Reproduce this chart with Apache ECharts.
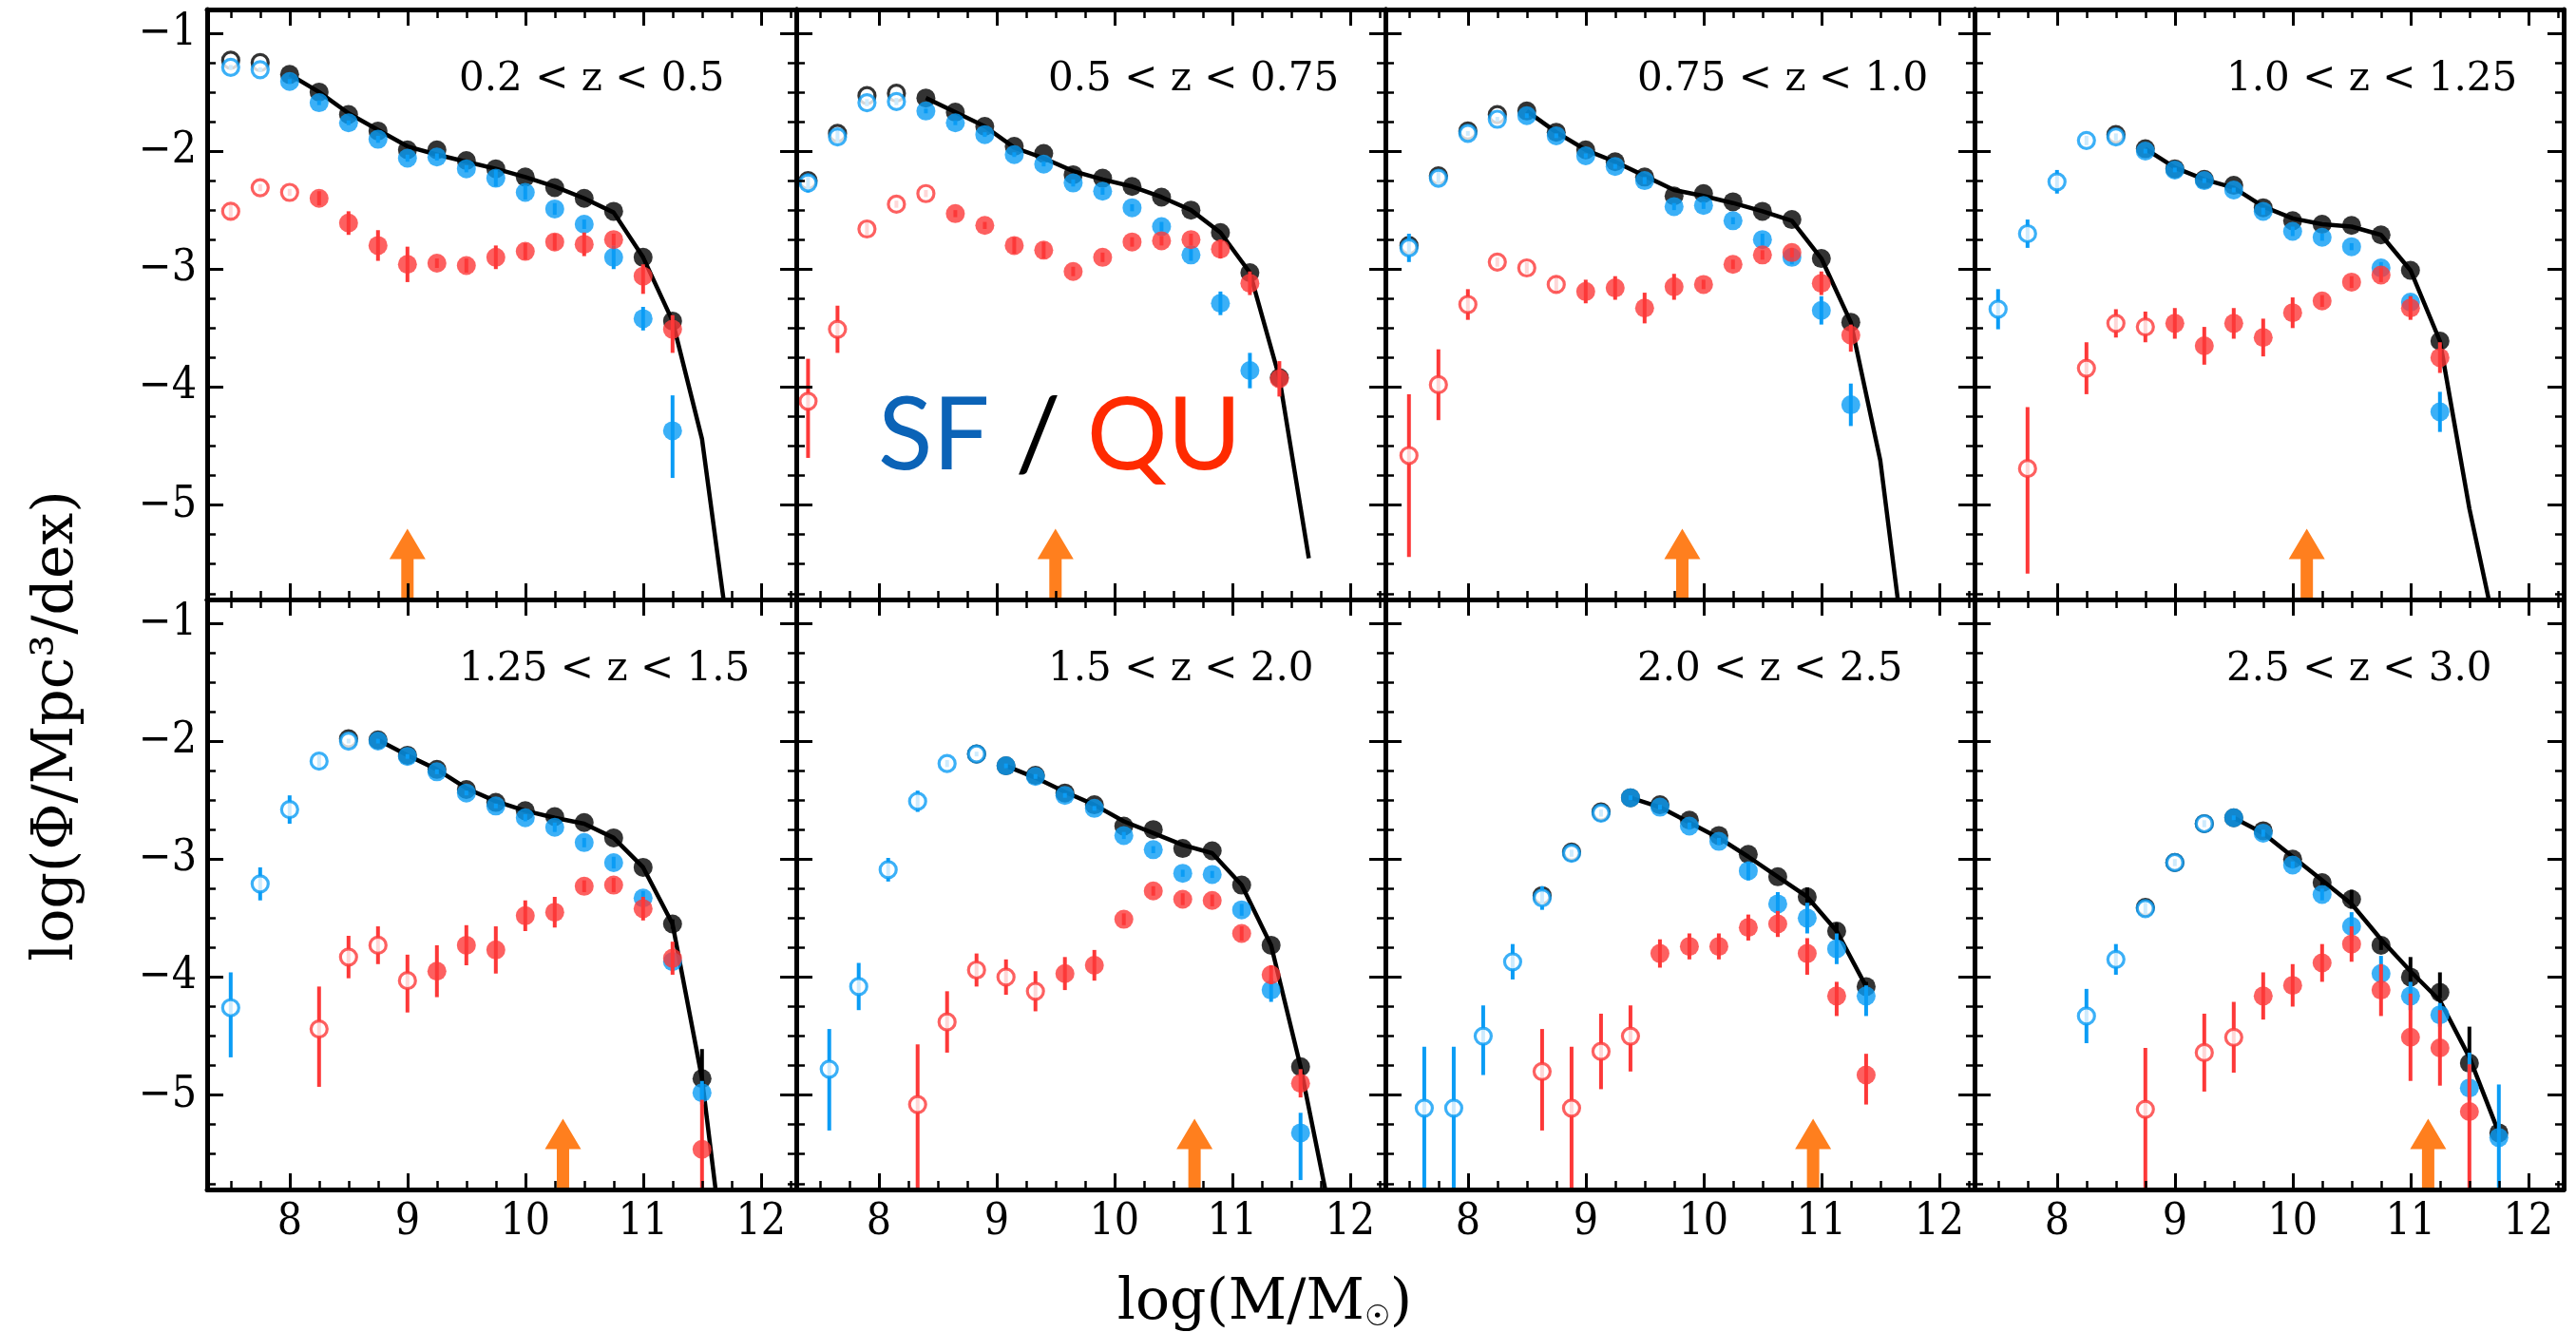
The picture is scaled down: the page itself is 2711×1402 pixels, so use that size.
<!DOCTYPE html>
<html>
<head>
<meta charset="utf-8">
<title>SF / QU stellar mass functions</title>
<script src="https://cdn.jsdelivr.net/npm/echarts@6/dist/echarts.min.js"></script>
<style>
  html, body { margin: 0; padding: 0; background: #fff; }
  #chart { width: 2711px; height: 1402px; }
</style>
</head>
<body>
<div id="chart"></div>
<script>
/*
  Stellar mass functions of star-forming (SF) and quiescent (QU) galaxies
  in eight redshift bins. Black = total, blue = SF, red = QU.
  Open symbols are below the mass completeness limit, the orange arrow marks it.
*/

// axis ranges and tick positions, shared by every panel
const X_MIN = 7.3
const X_MAX = 12.3
const Y_MIN = -5.8
const Y_MAX = -0.8
const xMajor = [8, 9, 10, 11, 12]
const xMinor = [7.5, 7.75, 8.25, 8.5, 8.75, 9.25, 9.5, 9.75, 10.25, 10.5, 10.75, 11.25, 11.5, 11.75, 12.25]
const yMajor = [-5, -4, -3, -2, -1]
const yMinor = [-5.75, -5.5, -5.25, -4.75, -4.5, -4.25, -3.75, -3.5, -3.25, -2.75, -2.5, -2.25, -1.75, -1.5, -1.25]

const zLabels = [
  '0.2 < z < 0.5', '0.5 < z < 0.75', '0.75 < z < 1.0', '1.0 < z < 1.25',
  '1.25 < z < 1.5', '1.5 < z < 2.0', '2.0 < z < 2.5', '2.5 < z < 3.0',
]

// completeness arrows (log M), tip height in log(Phi)
const arrowMass = [9.0, 9.5, 9.82, 10.12, 10.32, 10.68, 10.93, 11.15]
const ARROW_TIP = -5.2

// panel 1: 0.2 < z < 0.5
const mass1 = [7.5, 7.75, 8, 8.25, 8.5, 8.75, 9, 9.25, 9.5, 9.75, 10, 10.25, 10.5, 10.75, 11, 11.25, 11.5, 11.75]
const all1 = [-1.23, -1.25, -1.35, -1.50, -1.69, -1.83, -1.99, -1.99, -2.08, -2.15, -2.22, -2.31, -2.40, -2.51, -2.90, -3.44]
const allErr1 = []
const sf1 = [-1.29, -1.31, -1.41, -1.59, -1.76, -1.90, -2.06, -2.05, -2.15, -2.23, -2.35, -2.49, -2.62, -2.90, -3.42, -4.37]
const sfErr1 = [0.02, 0.02, 0.02, 0.02, 0.02, 0.03, 0.03, 0.03, 0.03, 0.07, 0.06, 0.05, 0.04, 0.1, 0.1, [0.3, 0.4]]
const qu1 = [-2.51, -2.31, -2.35, -2.40, -2.61, -2.80, -2.96, -2.95, -2.97, -2.90, -2.85, -2.77, -2.79, -2.75, -3.06, -3.51]
const quErr1 = [0.06, 0.03, 0.03, 0.06, 0.1, 0.13, 0.15, 0.04, 0.06, 0.1, 0.07, 0.07, 0.1, 0.05, [0.1, 0.15], [0.12, 0.2]]
const fit1 = [null, null, -1.35, -1.50, -1.68, -1.82, -1.96, -2.03, -2.09, -2.15, -2.22, -2.30, -2.40, -2.52, -2.90, -3.44, -4.44, -6.3]
const open1 = [2, 2, 3]

// panel 2: 0.5 < z < 0.75
const mass2 = [7.4, 7.65, 7.9, 8.15, 8.4, 8.65, 8.9, 9.15, 9.4, 9.65, 9.9, 10.15, 10.4, 10.65, 10.9, 11.15, 11.4, 11.65]
const all2 = [-2.25, -1.85, -1.53, -1.51, -1.55, -1.67, -1.79, -1.96, -2.02, -2.20, -2.23, -2.30, -2.39, -2.50, -2.69, -3.03, -3.92]
const allErr2 = []
const sf2 = [-2.27, -1.88, -1.59, -1.58, -1.66, -1.76, -1.86, -2.03, -2.11, -2.27, -2.34, -2.48, -2.64, -2.88, -3.29, -3.86]
const sfErr2 = [0.08, 0.06, 0.03, 0.03, 0.02, 0.02, 0.02, 0.02, 0.02, 0.03, 0.03, 0.03, 0.04, 0.05, 0.1, 0.15]
const qu2 = [-4.12, -3.51, -2.66, -2.45, -2.36, -2.53, -2.63, -2.80, -2.84, -3.02, -2.90, -2.77, -2.76, -2.75, -2.83, -3.12, -3.93]
const quErr2 = [[0.36, 0.48], 0.2, 0.06, 0.03, 0.03, 0.03, 0.03, 0.07, 0.07, 0.04, 0.04, 0.04, 0.04, 0.05, 0.08, 0.1, 0.15]
const fit2 = [null, null, null, null, -1.55, -1.67, -1.79, -1.97, -2.06, -2.17, -2.24, -2.30, -2.39, -2.50, -2.69, -3.03, -3.92, -5.45]
const open2 = [4, 4, 5]

// panel 3: 0.75 < z < 1.0
const mass3 = [7.5, 7.75, 8, 8.25, 8.5, 8.75, 9, 9.25, 9.5, 9.75, 10, 10.25, 10.5, 10.75, 11, 11.25, 11.5, 11.75]
const all3 = [-2.80, -2.21, -1.83, -1.69, -1.66, -1.84, -1.99, -2.09, -2.22, -2.38, -2.36, -2.43, -2.51, -2.58, -2.91, -3.45]
const allErr3 = []
const sf3 = [-2.82, -2.23, -1.85, -1.73, -1.70, -1.87, -2.04, -2.13, -2.25, -2.47, -2.46, -2.59, -2.75, -2.90, -3.35, -4.15]
const sfErr3 = [0.12, 0.06, 0.02, 0.02, 0.02, 0.02, 0.02, 0.02, 0.03, 0.03, 0.03, 0.03, 0.05, 0.06, 0.12, 0.18]
const qu3 = [-4.58, -3.98, -3.30, -2.94, -2.99, -3.13, -3.19, -3.16, -3.33, -3.15, -3.13, -2.96, -2.88, -2.86, -3.12, -3.56]
const quErr3 = [[0.52, 0.86], 0.3, 0.13, 0.04, 0.05, 0.07, 0.1, 0.1, 0.13, 0.11, 0.04, 0.04, 0.04, 0.04, 0.1, [0.09, 0.14]]
const fit3 = [null, null, null, null, -1.66, -1.84, -1.99, -2.09, -2.21, -2.33, -2.38, -2.44, -2.51, -2.59, -2.91, -3.45, -4.62, -6.6]
const open3 = [4, 4, 6]

// panel 4: 1.0 < z < 1.25
const mass4 = [7.5, 7.75, 8, 8.25, 8.5, 8.75, 9, 9.25, 9.5, 9.75, 10, 10.25, 10.5, 10.75, 11, 11.25, 11.5, 11.75]
const all4 = [null, null, null, null, -1.86, -1.98, -2.15, -2.24, -2.29, -2.48, -2.59, -2.62, -2.63, -2.71, -3.01, -3.61]
const allErr4 = []
const sf4 = [-3.34, -2.70, -2.26, -1.91, -1.88, -2.00, -2.16, -2.25, -2.33, -2.51, -2.68, -2.73, -2.81, -2.99, -3.28, -4.21]
const sfErr4 = [0.17, 0.12, 0.1, 0.04, 0.03, 0.02, 0.02, 0.02, 0.02, 0.03, 0.04, 0.03, 0.03, 0.05, 0.06, 0.17]
const qu4 = [null, -4.69, null, -3.84, -3.46, -3.49, -3.46, -3.65, -3.46, -3.58, -3.37, -3.27, -3.11, -3.05, -3.33, -3.75]
const quErr4 = [0, [0.52, 0.89], 0, 0.22, 0.12, 0.13, 0.13, 0.16, 0.13, 0.16, 0.13, 0.05, 0.05, 0.06, 0.1, 0.13]
const fit4 = [null, null, null, null, null, -1.98, -2.14, -2.24, -2.31, -2.47, -2.57, -2.62, -2.64, -2.71, -3.01, -3.61, -5.03, -6.2]
const open4 = [5, 5, 6]

// panel 5: 1.25 < z < 1.5
const mass5 = [7.5, 7.75, 8, 8.25, 8.5, 8.75, 9, 9.25, 9.5, 9.75, 10, 10.25, 10.5, 10.75, 11, 11.25, 11.5, 11.75]
const all5 = [null, null, null, null, -1.98, -1.99, -2.12, -2.24, -2.41, -2.52, -2.59, -2.64, -2.69, -2.82, -3.07, -3.55, -4.86]
const allErr5 = [0, 0, 0, 0, 0, 0, 0, 0, 0, 0, 0, 0, 0, 0, 0, 0.04, [0.25, 0.17]]
const sf5 = [-4.26, -3.21, -2.58, -2.17, -2.00, -2.00, -2.13, -2.26, -2.44, -2.55, -2.65, -2.73, -2.86, -3.03, -3.33, -3.87, -4.98]
const sfErr5 = [[0.30, 0.42], 0.14, 0.12, 0.05, 0.02, 0.02, 0.02, 0.02, 0.02, 0.02, 0.03, 0.04, 0.04, 0.05, 0.06, 0.08, 0.1]
const qu5 = [null, null, null, -4.44, -3.83, -3.73, -4.03, -3.95, -3.73, -3.77, -3.48, -3.45, -3.23, -3.22, -3.42, -3.84, -5.46]
const quErr5 = [0, 0, 0, [0.36, 0.49], 0.18, 0.16, [0.22, 0.27], 0.22, 0.17, 0.2, 0.13, 0.13, 0.05, 0.06, 0.1, 0.14, [0.42, 0.6]]
const fit5 = [null, null, null, null, null, -1.99, -2.12, -2.24, -2.40, -2.51, -2.59, -2.65, -2.70, -2.82, -3.07, -3.55, -4.86, -6.9]
const open5 = [5, 5, 7]

// panel 6: 1.5 < z < 2.0
const mass6 = [7.58, 7.83, 8.08, 8.33, 8.58, 8.83, 9.08, 9.33, 9.58, 9.83, 10.08, 10.33, 10.58, 10.83, 11.08, 11.33, 11.58, 11.83]
const all6 = [null, null, null, null, null, -2.11, -2.21, -2.29, -2.44, -2.54, -2.72, -2.75, -2.91, -2.93, -3.22, -3.73, -4.76]
const allErr6 = []
const sf6 = [-4.78, -4.08, -3.09, -2.51, -2.19, -2.11, -2.21, -2.30, -2.46, -2.57, -2.80, -2.92, -3.12, -3.13, -3.43, -4.11, -5.32]
const sfErr6 = [[0.34, 0.52], 0.2, 0.1, 0.09, 0.03, 0.02, 0.02, 0.02, 0.02, 0.02, 0.03, 0.03, 0.03, 0.03, 0.05, 0.1, [0.17, 0.4]]
const qu6 = [null, null, null, -5.08, -4.38, -3.94, -4.00, -4.12, -3.97, -3.90, -3.51, -3.27, -3.34, -3.35, -3.63, -3.98, -4.90]
const quErr6 = [0, 0, 0, [0.51, 0.9], 0.26, 0.14, 0.15, 0.17, 0.14, 0.13, 0.05, 0.04, 0.05, 0.05, 0.06, 0.08, 0.12]
const fit6 = [null, null, null, null, null, null, -2.21, -2.31, -2.43, -2.54, -2.68, -2.78, -2.88, -2.95, -3.22, -3.73, -4.76, -6.0]
const open6 = [6, 6, 8]

// panel 7: 2.0 < z < 2.5
const mass7 = [7.63, 7.88, 8.13, 8.38, 8.63, 8.88, 9.13, 9.38, 9.63, 9.88, 10.13, 10.38, 10.63, 10.88, 11.13, 11.38]
const all7 = [null, null, null, null, -3.31, -2.94, -2.60, -2.48, -2.54, -2.67, -2.80, -2.96, -3.15, -3.32, -3.61, -4.08]
const allErr7 = [0, 0, 0, 0, 0, 0, 0, 0, 0, 0, 0, 0, 0, 0.08, 0.07, 0.04]
const sf7 = [-5.11, -5.11, -4.50, -3.87, -3.33, -2.95, -2.61, -2.48, -2.56, -2.72, -2.85, -3.10, -3.38, -3.50, -3.76, -4.16]
const sfErr7 = [[0.52, 1], [0.52, 1], [0.26, 0.33], 0.15, 0.1, 0.03, 0.03, 0.02, 0.02, 0.03, 0.03, 0.08, 0.1, 0.13, 0.13, [0.09, 0.17]]
const qu7 = [null, null, null, null, -4.80, -5.11, -4.63, -4.50, -3.80, -3.74, -3.74, -3.58, -3.55, -3.80, -4.16, -4.83]
const quErr7 = [0, 0, 0, 0, [0.36, 0.5], [0.52, 1], 0.32, [0.26, 0.3], 0.12, 0.11, 0.11, 0.11, 0.11, [0.13, 0.18], [0.12, 0.17], [0.18, 0.25]]
const fit7 = [null, null, null, null, null, null, null, -2.48, -2.56, -2.69, -2.82, -2.98, -3.15, -3.32, -3.61, -4.08]
const open7 = [7, 7, 8]

// panel 8: 2.5 < z < 3.0
const mass8 = [8.25, 8.5, 8.75, 9, 9.25, 9.5, 9.75, 10, 10.25, 10.5, 10.75, 11, 11.25, 11.5, 11.75]
const all8 = [null, null, -3.41, -3.03, -2.70, -2.65, -2.76, -3.00, -3.20, -3.34, -3.73, -4.00, -4.13, -4.73, -5.32]
const allErr8 = [0, 0, 0, 0, 0, 0, 0, 0, 0.03, 0.08, 0.04, [0.17, 0.05], [0.17, 0.05], [0.31, 0.05], 0]
const sf8 = [-4.33, -3.85, -3.42, -3.03, -2.70, -2.65, -2.78, -3.05, -3.30, -3.57, -3.97, -4.16, -4.32, -4.94, -5.36]
const sfErr8 = [0.23, 0.13, 0.05, 0.03, 0.03, 0.02, 0.03, 0.03, 0.05, 0.12, [0.15, 0.12], 0.12, 0.1, [0.3, 0.1], [0.45, 0.5]]
const qu8 = [null, null, -5.12, null, -4.64, -4.51, -4.16, -4.07, -3.88, -3.72, -4.11, -4.51, -4.60, -5.14]
const quErr8 = [0, 0, [0.52, 1], 0, 0.33, 0.3, 0.2, 0.18, 0.16, 0.15, 0.22, 0.37, 0.32, [0.4, 1]]
const fit8 = [null, null, null, null, null, -2.65, -2.78, -2.98, -3.18, -3.38, -3.68, -3.95, -4.20, -4.68, -5.32]
const open8 = [5, 5, 6]

const panels = [
  { mass: mass1, all: all1, allErr: allErr1, sf: sf1, sfErr: sfErr1, qu: qu1, quErr: quErr1, fit: fit1, open: open1 },
  { mass: mass2, all: all2, allErr: allErr2, sf: sf2, sfErr: sfErr2, qu: qu2, quErr: quErr2, fit: fit2, open: open2 },
  { mass: mass3, all: all3, allErr: allErr3, sf: sf3, sfErr: sfErr3, qu: qu3, quErr: quErr3, fit: fit3, open: open3 },
  { mass: mass4, all: all4, allErr: allErr4, sf: sf4, sfErr: sfErr4, qu: qu4, quErr: quErr4, fit: fit4, open: open4 },
  { mass: mass5, all: all5, allErr: allErr5, sf: sf5, sfErr: sfErr5, qu: qu5, quErr: quErr5, fit: fit5, open: open5 },
  { mass: mass6, all: all6, allErr: allErr6, sf: sf6, sfErr: sfErr6, qu: qu6, quErr: quErr6, fit: fit6, open: open6 },
  { mass: mass7, all: all7, allErr: allErr7, sf: sf7, sfErr: sfErr7, qu: qu7, quErr: quErr7, fit: fit7, open: open7 },
  { mass: mass8, all: all8, allErr: allErr8, sf: sf8, sfErr: sfErr8, qu: qu8, quErr: quErr8, fit: fit8, open: open8 },
]

// drawing order: total first, then SF, QU on top
const groups = [
  { key: 'all', color: '#000000' },
  { key: 'sf', color: '#0a9cf5' },
  { key: 'qu', color: '#fd3838' },
]

// layout
const PANEL_LEFT = 218
const PANEL_TOP = 10
const PANEL_W = 620
const PANEL_H = 621
const SERIF = '"DejaVu Serif", serif'
const TICK_FONT = '"DejaVu Serif Condensed", "DejaVu Serif", serif'

const makeAxis = (dim, g, position, ticks, major, labels) => ({
  type: 'value',
  gridIndex: g,
  position,
  min: dim === 'x' ? X_MIN : Y_MIN,
  max: dim === 'x' ? X_MAX : Y_MAX,
  axisLine: { show: major, onZero: false, lineStyle: { color: '#000', width: 5 } },
  axisTick: {
    show: true,
    inside: true,
    customValues: ticks,
    length: major ? 17 : 9,
    lineStyle: { color: '#000', width: major ? 3 : 2.5 },
  },
  axisLabel: {
    show: labels,
    customValues: ticks,
    margin: dim === 'x' ? 12 : 11,
    color: '#000',
    fontSize: 46,
    fontFamily: TICK_FONT,
    formatter: v => String(v).replace('-', '\u2212'),
  },
  splitLine: { show: false },
  z: 10,
})

// vertical error bar from (x, y - dn) to (x, y + up), kept inside the panel
const errorBar = color => (params, api) => {
  const x = api.value(0)
  const y = api.value(1)
  const hi = Math.min(y + api.value(2), Y_MAX)
  const lo = Math.max(y - api.value(3), Y_MIN)
  const a = api.coord([x, hi])
  const b = api.coord([x, lo])
  return {
    type: 'line',
    shape: { x1: a[0], y1: a[1], x2: b[0], y2: b[1] },
    style: { stroke: color, lineWidth: 4 },
  }
}

// orange completeness arrow, standing on the bottom axis
const arrow = (params, api) => {
  const x = api.value(0)
  const tip = api.coord([x, api.value(1)])
  const base = api.coord([x, Y_MIN])
  const headY = tip[1] + 32
  const cx = tip[0]
  return {
    type: 'polygon',
    shape: {
      points: [
        [cx, tip[1]], [cx + 19, headY], [cx + 6.5, headY], [cx + 6.5, base[1]],
        [cx - 6.5, base[1]], [cx - 6.5, headY], [cx - 19, headY],
      ],
    },
    style: { fill: '#ff7f1e' },
  }
}

const grid = []
const xAxis = []
const yAxis = []
const series = []
const graphic = []

panels.forEach((p, g) => {
  const col = g % 4
  const row = Math.floor(g / 4)
  const left = PANEL_LEFT + col * PANEL_W
  const top = PANEL_TOP + row * PANEL_H
  grid.push({ left, top, width: PANEL_W, height: PANEL_H, outerBoundsMode: 'none' })

  // 4 x axes and 4 y axes per panel: major / minor ticks on all four sides
  xAxis.push(makeAxis('x', g, 'bottom', xMajor, true, row === 1))
  xAxis.push(makeAxis('x', g, 'bottom', xMinor, false, false))
  xAxis.push(makeAxis('x', g, 'top', xMajor, true, false))
  xAxis.push(makeAxis('x', g, 'top', xMinor, false, false))
  yAxis.push(makeAxis('y', g, 'left', yMajor, true, col === 0))
  yAxis.push(makeAxis('y', g, 'left', yMinor, false, false))
  yAxis.push(makeAxis('y', g, 'right', yMajor, true, false))
  yAxis.push(makeAxis('y', g, 'right', yMinor, false, false))
  const ax = { xAxisIndex: g * 4, yAxisIndex: g * 4 }

  series.push({
    ...ax,
    type: 'custom',
    renderItem: arrow,
    data: [[arrowMass[g], ARROW_TIP]],
    clip: true,
    silent: true,
    z: 1,
  })

  // fitted total mass function
  const fitData = []
  p.fit.forEach((v, i) => { if (v != null) fitData.push([p.mass[i], v]) })
  series.push({
    ...ax,
    type: 'line',
    data: fitData,
    symbol: 'none',
    clip: true,
    silent: true,
    lineStyle: { color: '#000', width: 4.5 },
    z: 2,
  })

  groups.forEach((grp, k) => {
    const vals = p[grp.key]
    const errs = p[grp.key + 'Err']
    const nOpen = p.open[k]
    const errData = []
    const filled = []
    const hollow = []
    vals.forEach((v, i) => {
      if (v == null) return
      const m = p.mass[i]
      const e = errs[i] || 0
      const up = Array.isArray(e) ? e[0] : e
      const dn = Array.isArray(e) ? e[1] : e
      if (up > 0 || dn > 0) errData.push([m, v, up, dn])
      ;(i < nOpen ? hollow : filled).push([m, v])
    })
    series.push({
      ...ax,
      type: 'custom',
      renderItem: errorBar(grp.color),
      data: errData,
      clip: true,
      silent: true,
      z: 3 + 2 * k,
    })
    series.push({
      ...ax,
      type: 'scatter',
      data: hollow,
      symbol: 'circle',
      symbolSize: 17,
      itemStyle: { color: '#ffffff', borderColor: grp.color, borderWidth: 3.2 },
      silent: true,
      z: 4 + 2 * k,
    })
    series.push({
      ...ax,
      type: 'scatter',
      data: filled,
      symbol: 'circle',
      symbolSize: 20,
      itemStyle: { color: grp.color },
      silent: true,
      z: 4 + 2 * k,
    })
  })

  // redshift label of the panel
  graphic.push({
    type: 'text',
    x: left + 265,
    y: top + 74,
    z: 30,
    style: {
      text: zLabels[g],
      fontSize: 42,
      fontFamily: SERIF,
      fill: '#000',
      align: 'left',
      verticalAlign: 'middle',
    },
  })
})

// "SF / QU" key inside the second panel
graphic.push({
  type: 'text',
  x: PANEL_LEFT + PANEL_W + 86,
  y: 460,
  z: 30,
  style: {
    text: '{sf|SF} {sl|/} {qu|QU}',
    fontSize: 106,
    fontFamily: 'Lato, "Open Sans", sans-serif',
    align: 'left',
    verticalAlign: 'middle',
    rich: {
      sf: { fill: '#0b63b7', fontSize: 106, fontFamily: 'Lato, "Open Sans", sans-serif' },
      sl: { fill: '#000', fontSize: 106, fontFamily: 'Lato, "Open Sans", sans-serif' },
      qu: { fill: '#ff2a00', fontSize: 106, fontFamily: 'Lato, "Open Sans", sans-serif' },
    },
  },
})

// axis titles
graphic.push({
  type: 'text',
  x: 60,
  y: 764,
  rotation: Math.PI / 2,
  z: 30,
  style: {
    text: 'log(\u03A6/Mpc\u00B3/dex)',
    fontSize: 60,
    fontFamily: SERIF,
    fill: '#000',
    align: 'center',
    verticalAlign: 'middle',
  },
})
graphic.push({
  type: 'text',
  x: 1331,
  y: 1372,
  z: 30,
  style: {
    text: '{a|log(M/M}{b|\u2609}{a|)}',
    fill: '#000',
    align: 'center',
    verticalAlign: 'middle',
    rich: {
      a: { fontSize: 60, fontFamily: SERIF, fill: '#000' },
      b: { fontSize: 30, fontFamily: '"DejaVu Sans", sans-serif', fill: '#000', verticalAlign: 'bottom' },
    },
  },
})

const myChart = echarts.init(document.getElementById('chart'))
myChart.setOption({
  animation: false,
  backgroundColor: '#ffffff',
  grid,
  xAxis,
  yAxis,
  series,
  graphic,
})
</script>
</body>
</html>
